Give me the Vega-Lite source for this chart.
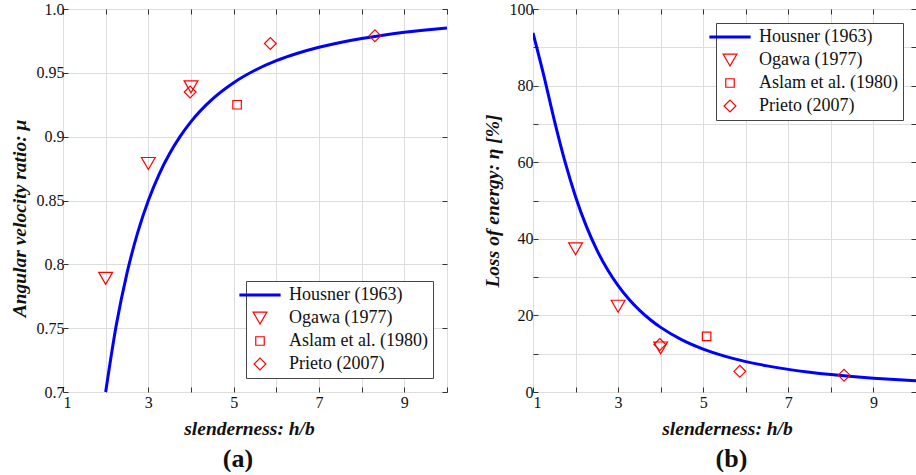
{
  "$schema": "https://vega.github.io/schema/vega-lite/v6.json",
  "background": "white",
  "padding": {"left": 8, "top": 0, "right": 0, "bottom": 0},
  "spacing": 33,
  "config": {
    "font": "Liberation Serif",
    "view": {"stroke": "#333333", "strokeWidth": 1},
    "axis": {
      "labelFont": "Liberation Serif", "labelFontSize": 16, "labelColor": "#111111",
      "titleFont": "Liberation Serif", "titleFontSize": 19.5, "titleFontWeight": "bold", "titleFontStyle": "italic", "titleColor": "#111111",
      "tickSize": -5, "tickColor": "#333333", "domain": false,
      "gridColor": "#dddddd", "gridWidth": 1, "labelPadding": 4
    },
    "legend": {
      "labelFont": "Liberation Serif", "labelFontSize": 18, "labelColor": "#111111", "labelOffset": 20,
      "fillColor": "white", "strokeColor": "#444444", "padding": 5, "rowPadding": 5,
      "symbolStrokeWidth": 1.2
    },
    "title": {"font": "Liberation Serif", "fontSize": 26, "fontWeight": "bold", "color": "#111111"}
  },
  "datasets": {
    "housner": [
      {"r": 1, "mu": 0.25, "eta": 93.75, "series": "Housner (1963)"},
      {"r": 1.25, "mu": 0.4146, "eta": 82.81, "series": "Housner (1963)"},
      {"r": 1.5, "mu": 0.5385, "eta": 71.01, "series": "Housner (1963)"},
      {"r": 1.75, "mu": 0.6308, "eta": 60.21, "series": "Housner (1963)"},
      {"r": 2, "mu": 0.7, "eta": 51.0, "series": "Housner (1963)"},
      {"r": 2.25, "mu": 0.7526, "eta": 43.36, "series": "Housner (1963)"},
      {"r": 2.5, "mu": 0.7931, "eta": 37.10, "series": "Housner (1963)"},
      {"r": 2.75, "mu": 0.8248, "eta": 31.97, "series": "Housner (1963)"},
      {"r": 3, "mu": 0.85, "eta": 27.75, "series": "Housner (1963)"},
      {"r": 3.25, "mu": 0.8703, "eta": 24.26, "series": "Housner (1963)"},
      {"r": 3.5, "mu": 0.8868, "eta": 21.36, "series": "Housner (1963)"},
      {"r": 3.75, "mu": 0.9004, "eta": 18.93, "series": "Housner (1963)"},
      {"r": 4, "mu": 0.9118, "eta": 16.87, "series": "Housner (1963)"},
      {"r": 4.5, "mu": 0.9294, "eta": 13.62, "series": "Housner (1963)"},
      {"r": 5, "mu": 0.9423, "eta": 11.21, "series": "Housner (1963)"},
      {"r": 5.5, "mu": 0.952, "eta": 9.37, "series": "Housner (1963)"},
      {"r": 6, "mu": 0.9595, "eta": 7.94, "series": "Housner (1963)"},
      {"r": 6.5, "mu": 0.9653, "eta": 6.82, "series": "Housner (1963)"},
      {"r": 7, "mu": 0.97, "eta": 5.91, "series": "Housner (1963)"},
      {"r": 7.5, "mu": 0.9738, "eta": 5.17, "series": "Housner (1963)"},
      {"r": 8, "mu": 0.9769, "eta": 4.56, "series": "Housner (1963)"},
      {"r": 8.5, "mu": 0.9795, "eta": 4.05, "series": "Housner (1963)"},
      {"r": 9, "mu": 0.9817, "eta": 3.62, "series": "Housner (1963)"},
      {"r": 9.5, "mu": 0.9836, "eta": 3.26, "series": "Housner (1963)"},
      {"r": 10, "mu": 0.9852, "eta": 2.95, "series": "Housner (1963)"}
    ],
    "expA": [
      {"r": 2, "mu": 0.789, "series": "Ogawa (1977)"},
      {"r": 3, "mu": 0.879, "series": "Ogawa (1977)"},
      {"r": 4, "mu": 0.939, "series": "Ogawa (1977)"},
      {"r": 5.08, "mu": 0.925, "series": "Aslam et al. (1980)"},
      {"r": 3.98, "mu": 0.935, "series": "Prieto (2007)"},
      {"r": 5.86, "mu": 0.973, "series": "Prieto (2007)"},
      {"r": 8.31, "mu": 0.979, "series": "Prieto (2007)"}
    ],
    "expB": [
      {"r": 2, "eta": 37.4, "series": "Ogawa (1977)"},
      {"r": 3, "eta": 22.4, "series": "Ogawa (1977)"},
      {"r": 4, "eta": 11.5, "series": "Ogawa (1977)"},
      {"r": 5.08, "eta": 14.5, "series": "Aslam et al. (1980)"},
      {"r": 3.98, "eta": 12.4, "series": "Prieto (2007)"},
      {"r": 5.86, "eta": 5.4, "series": "Prieto (2007)"},
      {"r": 8.31, "eta": 4.4, "series": "Prieto (2007)"}
    ]
  },
  "hconcat": [
    {
      "width": 384, "height": 383,
      "title": {"text": "(a)", "orient": "bottom", "dx": -17, "offset": 8},
      "layer": [
        {
          "data": {"name": "housner"},
          "transform": [{"filter": "datum.r >= 2"}],
          "mark": {"type": "line", "strokeWidth": 3, "interpolate": "monotone", "clip": true},
          "encoding": {
            "x": {"field": "r", "type": "quantitative", "scale": {"domain": [1, 10], "nice": false},
              "axis": {"orient": "bottom", "title": "slenderness: h/b", "values": [1,2,3,4,5,6,7,8,9,10], "labelExpr": "datum.value % 2 == 1 ? datum.label : ''", "labelPadding": 7, "titlePadding": 9, "titleX": 186}},
            "y": {"field": "mu", "type": "quantitative", "scale": {"domain": [0.7, 1.0], "nice": false, "zero": false},
              "axis": {"orient": "left", "title": "Angular velocity ratio: μ", "values": [0.7,0.75,0.8,0.85,0.9,0.95,1.0], "labelExpr": "datum.value > 0.99 ? '1.0' : format(datum.value, '.3~g')", "titlePadding": 7, "titleY": 209}},
            "color": {"field": "series", "type": "nominal",
              "scale": {"domain": ["Housner (1963)", "Ogawa (1977)", "Aslam et al. (1980)", "Prieto (2007)"], "range": ["#0000ff", "#ff0000", "#ff0000", "#ff0000"]},
              "legend": {"title": null, "orient": "bottom-right", "offset": 14, "encode": {"symbols": {"update": {"strokeWidth": {"signal": "datum.value === 'Housner (1963)' ? 3 : 1.2"}}}}}}
          }
        },
        {
          "data": {"name": "expA"},
          "mark": {"type": "point", "filled": false, "opacity": 1, "strokeWidth": 1.2, "clip": true},
          "encoding": {
            "x": {"field": "r", "type": "quantitative", "axis": {"orient": "top", "title": null, "labels": false, "grid": false, "maxExtent": 0, "minExtent": 0, "values": [1,2,3,4,5,6,7,8,9,10]}},
            "y": {"field": "mu", "type": "quantitative", "axis": {"orient": "right", "title": null, "labels": false, "grid": false, "maxExtent": 0, "minExtent": 0, "values": [0.7,0.75,0.8,0.85,0.9,0.95,1.0]}},
            "color": {"field": "series", "type": "nominal", "legend": {"title": null, "orient": "bottom-right", "offset": 14}},
            "shape": {"field": "series", "type": "nominal",
              "scale": {"domain": ["Housner (1963)", "Ogawa (1977)", "Aslam et al. (1980)", "Prieto (2007)"], "range": ["stroke", "triangle-down", "square", "diamond"]},
              "legend": {"title": null, "orient": "bottom-right", "offset": 14}},
            "size": {"field": "series", "type": "ordinal",
              "scale": {"type": "ordinal", "domain": ["Housner (1963)", "Ogawa (1977)", "Aslam et al. (1980)", "Prieto (2007)"], "range": [1700, 190, 72, 140]},
              "legend": {"title": null, "orient": "bottom-right", "offset": 14}}
          }
        }
      ],
      "resolve": {"axis": {"x": "independent", "y": "independent"}}
    },
    {
      "width": 383, "height": 383,
      "title": {"text": "(b)", "orient": "bottom", "dx": 7, "offset": 8},
      "layer": [
        {
          "data": {"name": "housner"},
          "mark": {"type": "line", "strokeWidth": 3, "interpolate": "monotone", "clip": true},
          "encoding": {
            "x": {"field": "r", "type": "quantitative", "scale": {"domain": [1, 10], "nice": false},
              "axis": {"orient": "bottom", "title": "slenderness: h/b", "values": [1,2,3,4,5,6,7,8,9,10], "labelExpr": "datum.value % 2 == 1 ? datum.label : ''", "labelPadding": 7, "titlePadding": 9, "titleX": 194}},
            "y": {"field": "eta", "type": "quantitative", "scale": {"domain": [0, 100], "nice": false},
              "axis": {"orient": "left", "title": "Loss of energy: η [%]", "values": [0,10,20,30,40,50,60,70,80,90,100], "labelExpr": "datum.value % 20 == 0 ? datum.label : ''", "labelPadding": 5, "titlePadding": 7}},
            "color": {"field": "series", "type": "nominal",
              "scale": {"domain": ["Housner (1963)", "Ogawa (1977)", "Aslam et al. (1980)", "Prieto (2007)"], "range": ["#0000ff", "#ff0000", "#ff0000", "#ff0000"]},
              "legend": {"title": null, "orient": "top-right", "offset": 13.5, "encode": {"symbols": {"update": {"strokeWidth": {"signal": "datum.value === 'Housner (1963)' ? 3 : 1.2"}}}}}}
          }
        },
        {
          "data": {"name": "expB"},
          "mark": {"type": "point", "filled": false, "opacity": 1, "strokeWidth": 1.2, "clip": true},
          "encoding": {
            "x": {"field": "r", "type": "quantitative", "axis": {"orient": "top", "title": null, "labels": false, "grid": false, "maxExtent": 0, "minExtent": 0, "values": [1,2,3,4,5,6,7,8,9,10]}},
            "y": {"field": "eta", "type": "quantitative", "axis": {"orient": "right", "title": null, "labels": false, "grid": false, "maxExtent": 0, "minExtent": 0, "values": [0,10,20,30,40,50,60,70,80,90,100]}},
            "color": {"field": "series", "type": "nominal", "legend": {"title": null, "orient": "top-right", "offset": 13.5}},
            "shape": {"field": "series", "type": "nominal",
              "scale": {"domain": ["Housner (1963)", "Ogawa (1977)", "Aslam et al. (1980)", "Prieto (2007)"], "range": ["stroke", "triangle-down", "square", "diamond"]},
              "legend": {"title": null, "orient": "top-right", "offset": 13.5}},
            "size": {"field": "series", "type": "ordinal",
              "scale": {"type": "ordinal", "domain": ["Housner (1963)", "Ogawa (1977)", "Aslam et al. (1980)", "Prieto (2007)"], "range": [1700, 190, 72, 140]},
              "legend": {"title": null, "orient": "top-right", "offset": 13.5}}
          }
        }
      ],
      "resolve": {"axis": {"x": "independent", "y": "independent"}}
    }
  ],
  "resolve": {"scale": {"color": "independent", "shape": "independent", "size": "independent"}, "legend": {"color": "independent", "shape": "independent", "size": "independent"}}
}
